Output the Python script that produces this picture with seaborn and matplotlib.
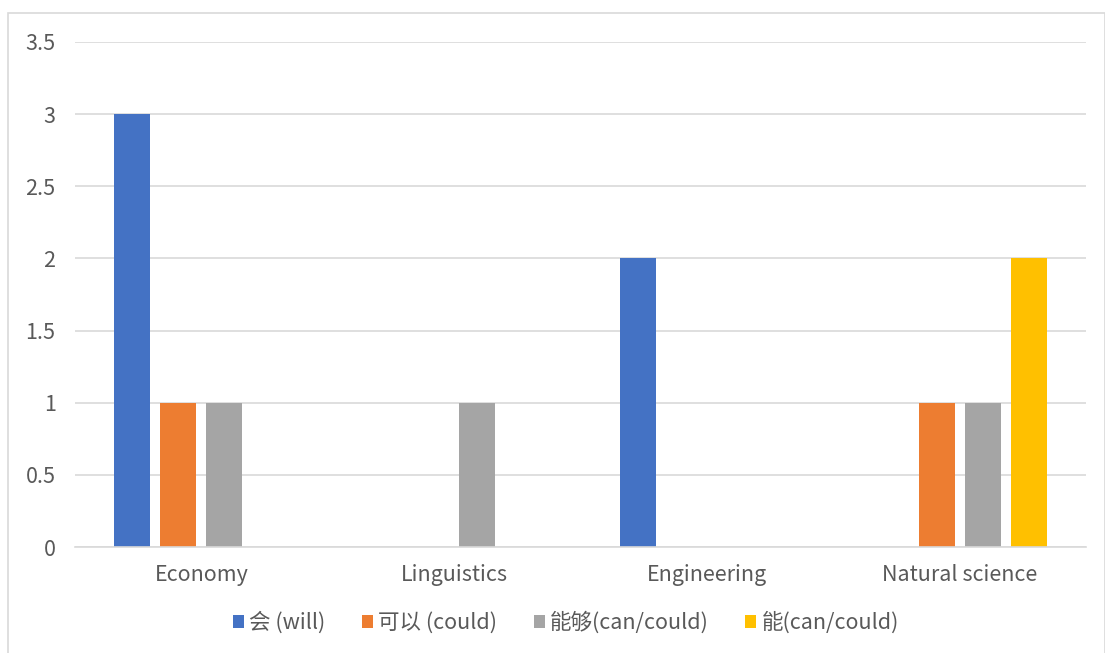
import matplotlib
matplotlib.use("Agg")
import matplotlib.pyplot as plt
from matplotlib.patches import Rectangle
import seaborn as sns
import pandas as pd

categories = ["Economy", "Linguistics", "Engineering", "Natural science"]
series = ["会 (will)", "可以 (could)", "能够(can/could)", "能(can/could)"]
will_vals = [3, 0, 2, 0]
keyi_vals = [1, 0, 0, 1]
nenggou_vals = [1, 1, 0, 1]
neng_vals = [0, 0, 0, 2]
colors = ["#4472C4", "#ED7D31", "#A5A5A5", "#FFC000"]

rows = []
for name, vals in zip(series, [will_vals, keyi_vals, nenggou_vals, neng_vals]):
    for cat, v in zip(categories, vals):
        rows.append({"category": cat, "series": name, "count": v})
df = pd.DataFrame(rows)

sns.set_theme(style="white")
plt.rcParams["font.family"] = ["Noto Sans CJK SC", "DejaVu Sans"]
plt.rcParams["font.weight"] = "light"

W, H = 1105, 653
fig = plt.figure(figsize=(W / 100, H / 100), dpi=100)
ax = fig.add_axes([75 / W, (H - 547) / H, (1086 - 75) / W, (547 - 42) / H])

sns.barplot(data=df, x="category", y="count", hue="series", order=categories,
            hue_order=series, palette=colors, width=0.73, gap=0.22,
            saturation=1, ax=ax, legend=True, edgecolor="none")

ax.set_ylim(0, 3.5)
ax.set_xlim(-0.5, 3.5)
ax.set_yticks([0, 0.5, 1, 1.5, 2, 2.5, 3, 3.5])
ax.set_yticklabels(["0", "0.5", "1", "1.5", "2", "2.5", "3", "3.5"])
ax.yaxis.grid(True, color="#D9D9D9", linewidth=1.2)
ax.set_axisbelow(True)
for s in ["top", "right", "left"]:
    ax.spines[s].set_visible(False)
ax.spines["bottom"].set_color("#D9D9D9")
ax.spines["bottom"].set_linewidth(1.2)
ax.tick_params(axis="both", length=0, labelsize=15.5, colors="#595959")
ax.tick_params(axis="y", pad=14)
ax.tick_params(axis="x", pad=12)
ax.set_xlabel("")
ax.set_ylabel("")

handles, labels = ax.get_legend_handles_labels()
ax.legend_.remove()
fig.legend(handles, labels, loc="center", bbox_to_anchor=(566 / W, (H - 623) / H),
           ncol=4, frameon=False, fontsize=15.5, labelcolor="#595959",
           handlelength=0.5, handleheight=0.5, handletextpad=0.25, columnspacing=1.7)

fig.patches.append(Rectangle((8 / W, -0.05), (W - 8) / W, (H - 13) / H + 0.05,
                             transform=fig.transFigure, fill=False,
                             edgecolor="#D9D9D9", linewidth=1.2))

fig.savefig("out.png", dpi=100, facecolor="white")
